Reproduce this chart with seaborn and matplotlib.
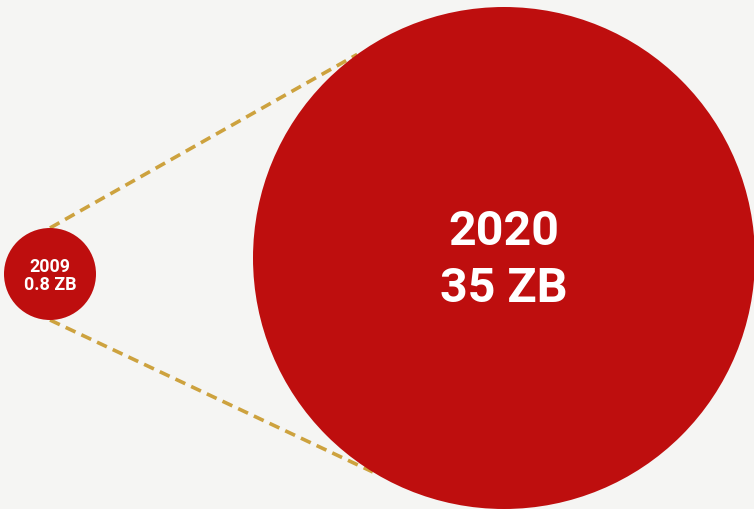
import numpy as np
import pandas as pd
import matplotlib
matplotlib.use("Agg")
import matplotlib.pyplot as plt
import seaborn as sns

# ---- data ----
years = [2009, 2020]
volumes_zb = [0.8, 35]
unit = "ZB"

# ---- layout / style (pixel space) ----
W, H = 754, 510
centers_x = [50, 504]
centers_y = [275, 259]
radii_px = [46, 251]
bg = "#F5F5F3"
red = "#BE0E0E"
gold = "#CDA23E"

sns.set_theme(style="white")
plt.rcParams["font.family"] = ["Roboto", "DejaVu Sans"]

fig = plt.figure(figsize=(W / 100, H / 100), dpi=100, facecolor=bg)
ax = fig.add_axes([0, 0, 1, 1])
ax.set_facecolor(bg)

df = pd.DataFrame({"year": years, "zb": volumes_zb, "x": centers_x, "y": centers_y})

# marker area in pt^2 from pixel diameters (dpi 100 -> 0.72 pt/px)
s_small = (2 * radii_px[0] * 0.72) ** 2
s_big = (2 * radii_px[1] * 0.72) ** 2

# connecting dashed lines: from small circle top/bottom to the big circle edge
cx, cy, R = centers_x[1], centers_y[1], radii_px[1]
ang_top = np.deg2rad(234.2)
ang_bot = np.deg2rad(121.5)
p_top = (cx + R * np.cos(ang_top), cy + R * np.sin(ang_top))
p_bot = (cx + R * np.cos(ang_bot), cy + R * np.sin(ang_bot))
sx, sy, r = centers_x[0], centers_y[0], radii_px[0]
for (ex, ey), y0 in [(p_top, sy - r), (p_bot, sy + r)]:
    ax.plot([sx, ex], [y0, ey], color=gold, lw=2.6, dashes=(3.0, 1.8),
            solid_capstyle="butt", dash_capstyle="butt", zorder=1)

sns.scatterplot(data=df, x="x", y="y", size="zb", sizes=(s_small, s_big),
                color=red, linewidth=0, legend=False, ax=ax, zorder=3, alpha=1)
ax.set_xlim(0, W)
ax.set_ylim(H, 0)
ax.axis("off")

# labels
ax.text(centers_x[0], 271.7, f"{years[0]}", ha="center", va="baseline",
        fontsize=12.9, fontweight="bold", color="white", zorder=4)
ax.text(centers_x[0], 290, f"{volumes_zb[0]:g} {unit}", ha="center", va="baseline",
        fontsize=12.9, fontweight="bold", color="white", zorder=4)
ax.text(centers_x[1], 245, f"{years[1]}", ha="center", va="baseline",
        fontsize=34.8, fontweight="bold", color="white", zorder=4)
ax.text(centers_x[1], 301.7, f"{volumes_zb[1]:g} {unit}", ha="center", va="baseline",
        fontsize=34.8, fontweight="bold", color="white", zorder=4)

fig.savefig("out.png", dpi=100, facecolor=bg)
